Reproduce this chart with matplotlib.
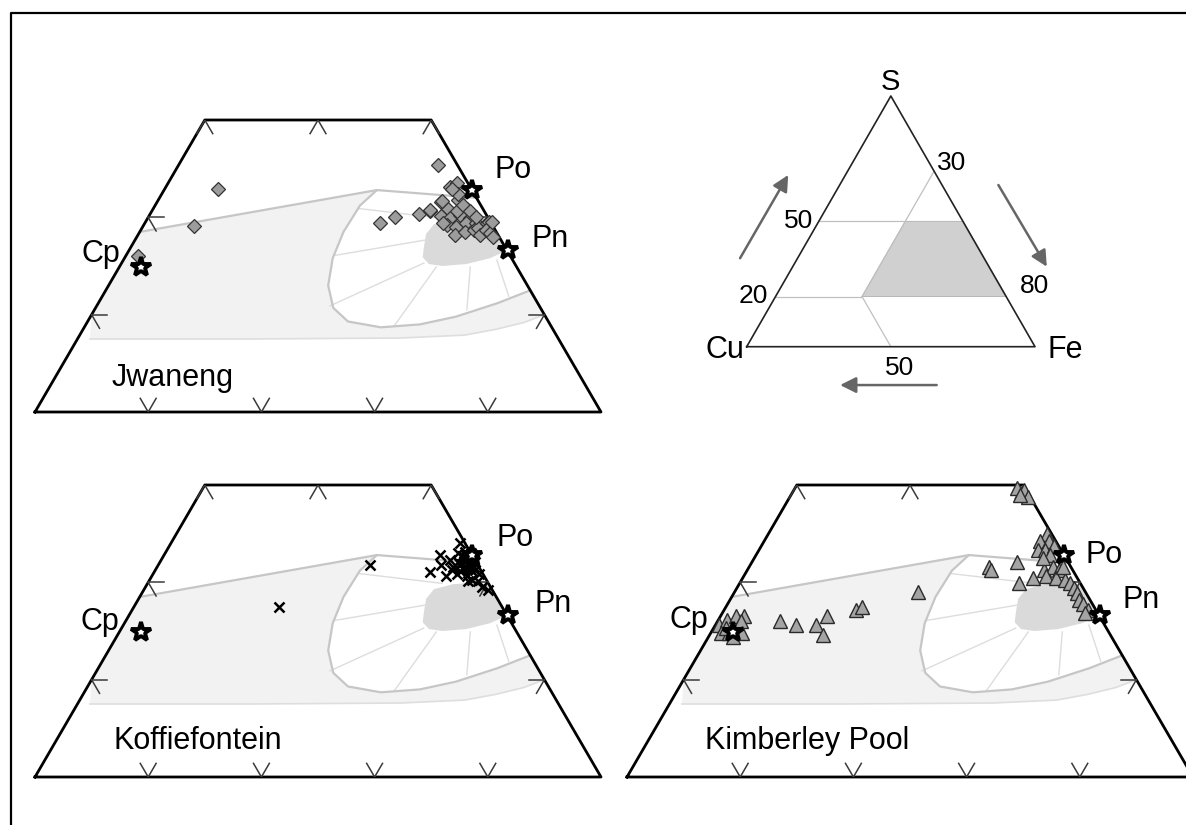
import numpy as np
import matplotlib.pyplot as plt
from matplotlib.lines import Line2D
from matplotlib.patches import Polygon

plt.rcParams['font.family'] = ['Liberation Sans', 'DejaVu Sans']

# end-member sulphides (wt% Fe, wt% S)
MINERALS = ['Cp', 'Po', 'Pn']
MIN_FE = [31.9, 57.2, 63.5]
MIN_S = [34.9, 42.8, 36.6]

# Jwaneng sulphide analyses
JW_FE = [34.7, 34.5, 31.1, 52.9, 50.8, 51.8, 53.8, 54.5, 55.1, 55.5, 55.1, 56.0,
         56.5, 57.7, 55.8, 56.7, 57.4, 58.5, 56.8, 57.7, 58.4, 59.3, 58.0, 58.7,
         59.4, 59.7, 60.2, 60.2, 60.4, 60.5, 61.0, 60.6, 57.0, 54.5, 55.1, 61.5,
         56.2, 57.2, 58.1, 59.0, 55.4, 56.3]
JW_S = [42.9, 39.1, 36.0, 45.4, 39.4, 40.0, 40.3, 40.7, 43.1, 43.5, 41.6, 40.9,
        41.8, 40.9, 40.1, 39.9, 40.2, 39.9, 39.2, 39.0, 39.4, 39.4, 38.2, 38.5,
        38.7, 38.9, 38.2, 39.4, 39.5, 38.7, 38.4, 39.5, 40.6, 40.8, 41.7, 38.0,
        42.4, 41.3, 40.6, 40.0, 42.9, 39.4]

# Koffiefontein sulphide analyses
KF_FE = [48.7, 42.8, 54.3, 54.4, 55.0, 55.5, 56.2, 55.5, 55.9, 56.4, 57.0, 56.7,
         57.6, 57.4, 56.8, 57.8, 58.5, 59.1, 58.8, 58.2, 58.2, 57.1, 56.1, 60.4,
         59.7, 56.0, 57.0, 57.3, 57.8, 56.5, 57.9, 56.3, 57.5, 56.9, 56.6, 57.1,
         57.6, 56.8, 57.3, 57.0, 56.4, 58.0, 57.4, 56.9]
KF_S = [41.8, 37.5, 41.1, 42.8, 41.8, 42.3, 41.3, 44.0, 43.0, 43.1, 42.3, 41.9,
        41.6, 42.6, 40.9, 40.7, 40.2, 40.1, 40.9, 40.1, 41.3, 41.4, 41.6, 39.2,
        39.5, 40.7, 43.0, 42.0, 42.1, 42.6, 41.3, 42.1, 41.8, 42.4, 41.9, 41.7,
        42.3, 42.2, 41.5, 42.6, 42.7, 41.6, 42.2, 41.2]

# Kimberley Pool sulphide analyses
KP_FE = [30.3, 30.8, 31.4, 32.1, 32.1, 30.9, 31.6, 32.8, 32.2, 31.1, 35.5, 37.1,
         38.9, 39.4, 40.0, 41.6, 42.0, 46.2, 49.6, 50.3, 51.0, 50.2, 54.6, 54.4,
         55.2, 54.7, 55.3, 55.9, 56.0, 51.2, 51.5, 53.4, 54.7, 55.7, 56.2, 56.8,
         57.5, 56.7, 57.7, 58.6, 57.7, 59.2, 59.8, 60.3, 60.8, 61.4, 62.1, 62.1,
         55.5]
KP_S = [35.6, 36.1, 36.5, 36.5, 36.0, 34.8, 34.8, 34.8, 34.4, 35.3, 36.0, 35.6,
        35.6, 36.5, 34.6, 37.2, 37.5, 39.0, 49.7, 49.5, 48.8, 49.0, 45.0, 44.2,
        44.2, 43.3, 43.3, 43.7, 42.8, 41.6, 41.3, 42.1, 39.9, 40.4, 41.3, 41.6,
        41.3, 40.6, 40.4, 40.2, 41.6, 39.9, 39.4, 38.9, 38.2, 37.8, 37.2, 36.8,
        42.5]

# phase relations drawn behind the data (wt% Fe, wt% S)
FIELD_TOP_FE = [30.0, 48.8]
FIELD_TOP_S = [38.5, 42.8]
LOOP_FE = [48.8, 48.1, 48.0, 48.4, 49.4, 51.0, 53.0, 56.2, 59.5, 62.3, 65.3, 67.5]
LOOP_S = [42.8, 41.2, 38.5, 35.8, 33.0, 30.7, 29.3, 28.7, 29.0, 29.8, 31.2, 32.5]
FIELD_BASE_FE = [70.0, 68.6, 66.5, 64.0, 58.5, 45.5, 31.1, 30.0]
FIELD_BASE_S = [30.0, 29.2, 28.5, 27.9, 27.6, 27.5, 27.5, 30.0]
UPPER_FE = [48.8, 54.6, 58.0]
UPPER_S = [42.8, 42.3, 42.0]
MSS_FE = [55.6, 57.0, 59.0, 60.3, 61.8, 63.4, 62.3, 60.5, 58.5, 57.2, 56.3, 55.9, 55.4]
MSS_S = [39.3, 39.8, 40.0, 39.7, 38.2, 36.6, 35.8, 35.2, 35.0, 35.2, 35.9, 36.9, 38.3]
TIE_FE = [(48.2, 56.0), (48.5, 55.8), (50.6, 56.7), (57.3, 58.0), (62.9, 61.0), (65.9, 63.0)]
TIE_S = [(40.9, 39.9), (36.1, 37.7), (30.9, 35.3), (28.8, 34.9), (30.5, 34.9), (31.9, 35.6)]

W, H = 1186, 825
LINE_GREY = '#c6c6c6'


def tern(fe, s):
    fe = np.asarray(fe, dtype=float)
    s = np.asarray(s, dtype=float)
    return fe + s / 2, s


def draw_panel(fig, bx, by, name, fe, s, style, labels):
    ax = fig.add_axes([bx / W, (H - by) / H, 566 / W, 292 / H])
    ax.set_xlim(40, 90)
    ax.set_ylim(20, 50)
    ax.axis('off')

    # iss / po fields
    pf = list(FIELD_TOP_FE) + LOOP_FE[1:] + FIELD_BASE_FE
    ps = list(FIELD_TOP_S) + LOOP_S[1:] + FIELD_BASE_S
    x, y = tern(pf, ps)
    ax.add_patch(Polygon(np.column_stack([x, y]), closed=True, fc='#f2f2f2',
                         ec='none', zorder=1))
    x, y = tern(FIELD_BASE_FE[:-1], FIELD_BASE_S[:-1])
    ax.plot(x, y, color='#dedede', lw=1.2, zorder=2)
    x, y = tern(MSS_FE, MSS_S)
    ax.add_patch(Polygon(np.column_stack([x, y]), closed=True, fc='#dadada',
                         ec='none', zorder=1))
    for tf, ts in zip(TIE_FE, TIE_S):
        x, y = tern(tf, ts)
        ax.plot(x, y, color='#dddddd', lw=1, zorder=2)
    for lf, ls in [(FIELD_TOP_FE, FIELD_TOP_S), (LOOP_FE, LOOP_S), (UPPER_FE, UPPER_S)]:
        x, y = tern(lf, ls)
        ax.plot(x, y, color=LINE_GREY, lw=1.6, zorder=2, solid_capstyle='round')

    # frame of the S 20-50 / Fe > 30 window
    x, y = tern([30, 80, 50, 30, 30], [20, 20, 50, 50, 20])
    ax.plot(x, y, color='black', lw=2, zorder=3, clip_on=False)
    L = 1.4
    segs = []
    for f in [30, 40, 50]:
        segs += [([f, f], [50, 50 - L]), ([f, f + L], [50, 50 - L])]
    for f in [40, 50, 60, 70]:
        segs += [([f, f], [20, 20 + L]), ([f, f - L], [20, 20 + L])]
    for v in [30, 40]:
        segs += [([30, 30 + L], [v, v]), ([30, 30 + L], [v, v - L])]
        segs += [([100 - v, 100 - v - L], [v, v]), ([100 - v, 100 - v], [v, v - L])]
    for sf, ss in segs:
        x, y = tern(sf, ss)
        ax.plot(x, y, color='#3a3a3a', lw=1.1, zorder=3)

    x, y = tern(fe, s)
    ax.plot(x, y, linestyle='none', zorder=4, clip_on=False, **style)
    x, y = tern(MIN_FE, MIN_S)
    ax.plot(x, y, linestyle='none', marker='*', ms=15, mfc='white', mec='black',
            mew=2.8, zorder=5, clip_on=False)

    for txt, (lx, ly, ha) in zip(MINERALS + [name], labels):
        ax.text(lx, ly, txt, ha=ha, va='baseline', fontsize=22)
    return ax


fig = plt.figure(figsize=(W / 100, H / 100), dpi=100)

diamond = dict(marker='D', ms=7.5, mfc='#9c9c9c', mec='#333333', mew=0.9)
cross = dict(marker='x', ms=7.5, mew=1.8, color='black')
triangle = dict(marker='^', ms=9.5, mfc='#a4a4a4', mec='#2a2a2a', mew=1.0)

draw_panel(fig, 35, 412, 'Jwaneng', JW_FE, JW_S, diamond,
           [(47.5, 35.4, 'right'), (80.6, 44.0, 'left'), (83.9, 37.0, 'left'),
            (46.8, 22.7, 'left')])
draw_panel(fig, 35, 777, 'Koffiefontein', KF_FE, KF_S, cross,
           [(47.4, 35.1, 'right'), (80.8, 43.7, 'left'), (84.1, 37.0, 'left'),
            (46.9, 22.9, 'left')])
draw_panel(fig, 627, 777, 'Kimberley Pool', KP_FE, KP_S, triangle,
           [(47.2, 35.3, 'right'), (80.5, 42.0, 'left'), (83.8, 37.4, 'left'),
            (46.9, 22.9, 'left')])

# key triangle Cu-Fe-S
ax = fig.add_axes([746.7 / W, (H - 346.7) / H, 288.3 / W, 250.7 / H])
ax.set_xlim(0, 100)
ax.set_ylim(0, 100)
ax.axis('off')
x, y = tern([30, 50, 80, 30], [50, 50, 20, 20])
ax.add_patch(Polygon(np.column_stack([x, y]), closed=True, fc='#d0d0d0',
                     ec='#b0b0b0', lw=0.6, zorder=1))
for gf, gs in [([0, 30], [50, 50]), ([0, 30], [20, 20]), ([30, 30], [70, 20]),
               ([30, 50], [20, 0])]:
    x, y = tern(gf, gs)
    ax.plot(x, y, color='#c0c0c0', lw=0.9, zorder=2)
x, y = tern([0, 100, 0, 0], [0, 0, 100, 0])
ax.plot(x, y, color='#222222', lw=1.2, zorder=3, clip_on=False)

ax.text(50, 102.4, 'S', ha='center', va='baseline', fontsize=21)
ax.text(-0.8, -4.6, 'Cu', ha='right', va='baseline', fontsize=22)
ax.text(104.5, -4.6, 'Fe', ha='left', va='baseline', fontsize=22)
ax.text(65.9, 70.5, '30', ha='left', va='baseline', fontsize=19)
ax.text(23.1, 47.2, '50', ha='right', va='baseline', fontsize=19)
ax.text(7.5, 17.3, '20', ha='right', va='baseline', fontsize=19)
ax.text(94.8, 21.3, '80', ha='left', va='baseline', fontsize=19)
ax.text(53.1, -11.3, '50', ha='center', va='baseline', fontsize=19)

arrow = dict(arrowstyle='-|>', color='#666666', lw=1.8, mutation_scale=24,
             shrinkA=0, shrinkB=0)
for (x0, y0), (x1, y1) in [((-2.3, 35.3), (14.4, 68.5)), ((87.3, 64.5), (104.1, 31.9)),
                           ((65.9, -15.3), (32.4, -15.3))]:
    ax.annotate('', xy=(x1, y1), xytext=(x0, y0), arrowprops=arrow,
                annotation_clip=False)

# outer frame (top and left sides visible)
fx, fy = 11 / W, 1 - 13 / H
fig.add_artist(Line2D([fx, fx, 1.0], [0.0, fy, fy], color='black', lw=1.6,
                      transform=fig.transFigure))

fig.savefig('out.png', dpi=100)
